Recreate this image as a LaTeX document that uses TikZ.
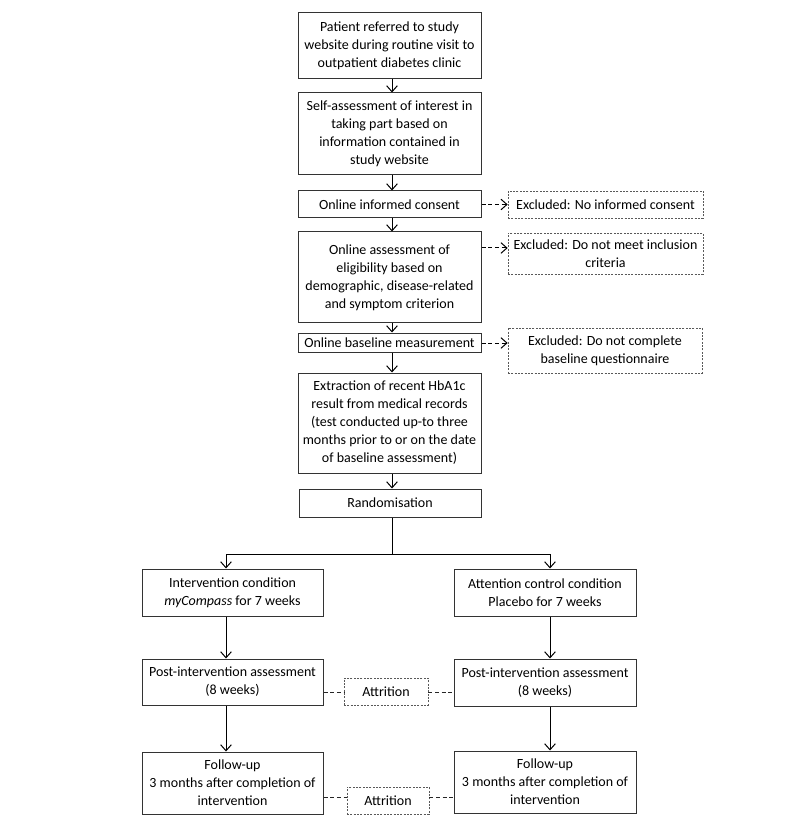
\documentclass[tikz,border=0pt]{standalone}
\usepackage{fontspec}
\setmainfont{Carlito}
\usetikzlibrary{arrows.meta}
\begin{document}
\begin{tikzpicture}[x=0.75pt,y=-0.75pt,
  bw/.style={minimum width={#1*0.75pt}},
  bh/.style={minimum height={#1*0.75pt}},
  txt/.style={font=\fontsize{10.5pt}{13.5pt}\selectfont, align=center, inner sep=0pt},
  box/.style={txt, draw=black!80, line width=0.75pt},
  exbox/.style={txt, draw=black!65, line width=0.5pt, dash pattern=on 1.5pt off 1pt},
  arr/.style={draw=black, line width=0.75pt, -{Straight Barb[length=4.5pt,width=8pt]}},
  dasharr/.style={draw=black, line width=0.75pt, dash pattern=on 3pt off 2pt, -{Straight Barb[length=4.5pt,width=8pt]}},
  dashline/.style={draw=black!85, line width=0.75pt, dash pattern=on 3pt off 2pt},
  plain/.style={draw=black, line width=0.75pt}]
\fill[white] (0,0) rectangle (800,837);
\useasboundingbox (0,0) rectangle (800,837);

% main column
\node[box, bw=183, bh=66] (b1) at (389.5,46) {Patient referred to study\\website during routine visit to\\outpatient diabetes clinic};
\node[box, bw=183, bh=82] (b2) at (389.5,134) {Self-assessment of interest in\\taking part based on\\information contained in\\study website};
\node[box, bw=183, bh=27] (b3) at (389.5,204.5) {Online informed consent};
\node[box, bw=183, bh=91] (b4) at (389.5,277.5) {Online assessment of\\eligibility based on\\demographic, disease-related\\and symptom criterion};
\node[box, bw=183, bh=19] (b5) at (389.5,342.5) {Online baseline measurement};
\node[box, bw=183, bh=100] (b6) at (389.5,423) {Extraction of recent HbA1c\\result from medical records\\(test conducted up-to three\\months prior to or on the date\\of baseline assessment)};
\node[box, bw=182, bh=28] (rnd) at (390,503) {Randomisation};

% exclusion boxes
\node[exbox, bw=195, bh=27] (e1) at (605.5,204.5) {Excluded: No informed consent};
\node[exbox, bw=195, bh=41] (e2) at (605.5,253.5) {Excluded: Do not meet inclusion\\criteria};
\node[exbox, bw=194, bh=45] (e3) at (605,350.5) {Excluded: Do not complete\\baseline questionnaire};

% arms
\node[box, bw=181, bh=47] (l1) at (232.5,592.5) {Intervention condition\\\textit{myCompass} for 7 weeks};
\node[box, bw=182, bh=47] (r1) at (545,592.5) {Attention control condition\\Placebo for 7 weeks};
\node[box, bw=181, bh=46] (l2) at (232.5,682) {Post-intervention assessment\\(8 weeks)};
\node[box, bw=182, bh=47] (r2) at (545,682.5) {Post-intervention assessment\\(8 weeks)};
\node[box, bw=181, bh=62] (l3) at (232.5,783) {Follow-up\\3 months after completion of\\intervention};
\node[box, bw=182, bh=62] (r3) at (545,782) {Follow-up\\3 months after completion of\\intervention};
\node[exbox, bw=84, bh=27] (a1) at (386,691.5) {Attrition};
\node[exbox, bw=82, bh=27] (a2) at (388,800.5) {Attrition};

% coordinates for connector lines
\coordinate (mx) at (392,0);
\coordinate (lx) at (226,0);
\coordinate (rx) at (550,0);
\coordinate (split) at (392,554);
\coordinate (y2) at (0,248);
\coordinate (y3) at (0,343);
\coordinate (ya1) at (0,692);
\coordinate (ya2) at (0,797);

% main arrows
\draw[arr] (b1.south -| mx) -- (b2.north -| mx);
\draw[arr] (b2.south -| mx) -- (b3.north -| mx);
\draw[arr] (b3.south -| mx) -- (b4.north -| mx);
\draw[arr] (b4.south -| mx) -- (b5.north -| mx);
\draw[arr] (b5.south -| mx) -- (b6.north -| mx);
\draw[arr] (b6.south -| mx) -- (rnd.north -| mx);

% exclusions
\draw[dasharr] (b3.east) -- (e1.west);
\draw[dasharr] (b4.east |- y2) -- (e2.west |- y2);
\draw[dasharr] (b5.east |- y3) -- (e3.west |- y3);

% split
\draw[plain] (rnd.south -| split) -- (split);
\draw[arr] (split) -| (l1.north -| lx);
\draw[arr] (split) -| (r1.north -| rx);

% arm arrows
\draw[arr] (l1.south -| lx) -- (l2.north -| lx);
\draw[arr] (l2.south -| lx) -- (l3.north -| lx);
\draw[arr] (r1.south -| rx) -- (r2.north -| rx);
\draw[arr] (r2.south -| rx) -- (r3.north -| rx);

% attrition
\draw[dashline] (l2.east |- ya1) -- (a1.west |- ya1);
\draw[dashline] (a1.east |- ya1) -- (r2.west |- ya1);
\draw[dashline] (l3.east |- ya2) -- (a2.west |- ya2);
\draw[dashline] (a2.east |- ya2) -- (r3.west |- ya2);
\end{tikzpicture}
\end{document}
